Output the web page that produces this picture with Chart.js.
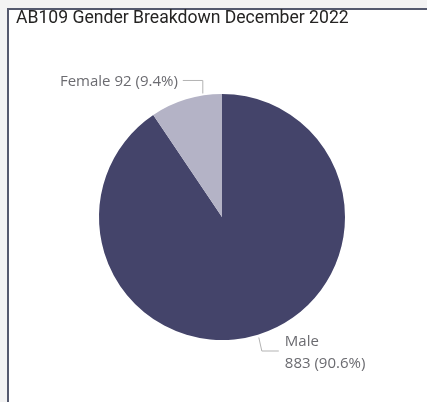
<!DOCTYPE html>
<html>
<head>
<meta charset="utf-8">
<script src="https://cdn.jsdelivr.net/npm/chart.js@4/dist/chart.umd.min.js"></script>
<style>
  html, body { margin: 0; padding: 0; background: #f3f3f3; width: 427px; height: 402px; overflow: hidden; }
  #card {
    position: absolute; left: 7px; top: 8px; width: 430px; height: 410px;
    background: #fff; border-left: 2px solid #555a6e; border-top: 2px solid #555a6e;
  }
  #title {
    position: absolute; left: 16px; top: 7px;
    font-family: Roboto, "Noto Sans", sans-serif; font-size: 17.6px; color: #252423;
    white-space: nowrap;
  }
  #bp { position: absolute; left: 0; top: 0; }
</style>
</head>
<body>
<div id="card"></div>
<canvas id="bp" width="427" height="402"></canvas>
<div id="title">AB109 Gender Breakdown December 2022</div>
<script>
// ---------- data ----------
const categories = ["Male", "Female"];
const counts = [883, 92];
const percentLabels = ["90.6%", "9.4%"];
const sliceColors = ["#44446a", "#b4b3c6"];

// ---------- leader lines + data labels ----------
const pieLabels = {
  id: "pieLabels",
  afterDraw(chart) {
    const ctx = chart.ctx;
    const arcs = chart.getDatasetMeta(0).data;
    ctx.save();
    ctx.strokeStyle = "#b3b3b3";
    ctx.lineWidth = 1;
    ctx.fillStyle = "#6b6b70";
    ctx.font = '15px "Open Sans", "Noto Sans", sans-serif';
    ctx.textBaseline = "alphabetic";

    // Male: leader from the middle of the slice, label in two lines
    const m = arcs[0];
    const mMid = (m.startAngle + m.endAngle) / 2;
    const mx = m.x + Math.cos(mMid) * (m.outerRadius + 3);
    const my = m.y + Math.sin(mMid) * (m.outerRadius + 3);
    ctx.beginPath();
    ctx.moveTo(mx, my);
    ctx.lineTo(mx + 3, my + 13.5);
    ctx.lineTo(mx + 20, my + 13.5);
    ctx.stroke();
    ctx.textAlign = "left";
    ctx.fillText(categories[0], mx + 26, my + 8.5);
    ctx.fillText(counts[0] + " (" + percentLabels[0] + ")", mx + 26, my + 30);

    // Female: leader goes up from the slice top then left to the label
    const f = arcs[1];
    const fa = f.endAngle - (f.endAngle - f.startAngle) * 0.26;
    const fx = f.x + Math.cos(fa) * (f.outerRadius + 2);
    const fy = f.y + Math.sin(fa) * (f.outerRadius + 2);
    ctx.beginPath();
    ctx.moveTo(fx, fy);
    ctx.lineTo(fx, fy - 13);
    ctx.lineTo(fx - 20, fy - 13);
    ctx.stroke();
    ctx.textAlign = "right";
    ctx.fillText(categories[1] + " " + counts[1] + " (" + percentLabels[1] + ")", fx - 25, fy - 7.5);
    ctx.restore();
  }
};

new Chart(document.getElementById("bp"), {
  type: "pie",
  data: {
    labels: categories,
    datasets: [{
      data: counts,
      backgroundColor: sliceColors,
      borderWidth: 0
    }]
  },
  options: {
    responsive: false,
    animation: false,
    layout: { padding: { left: 99, right: 82, top: 94, bottom: 62 } },
    plugins: {
      legend: { display: false },
      tooltip: { enabled: false }
    }
  },
  plugins: [pieLabels]
});
</script>
</body>
</html>
